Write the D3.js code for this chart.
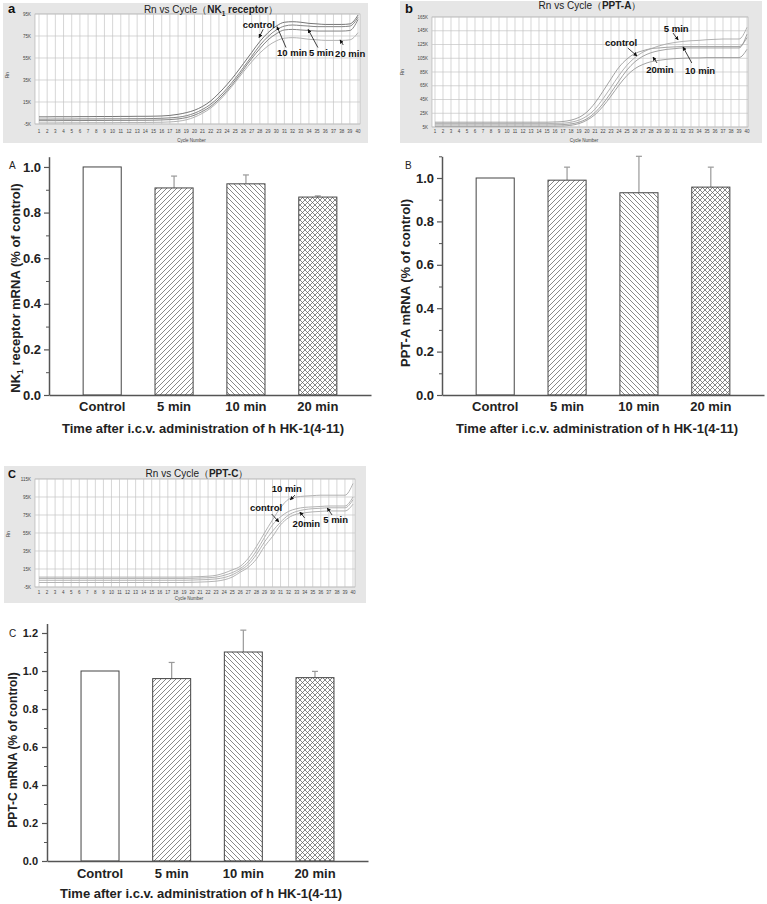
<!DOCTYPE html>
<html><head><meta charset="utf-8">
<script src="https://cdn.jsdelivr.net/npm/d3@7"></script>
<style>
body{margin:0;background:#fff}
svg{display:block}
text{font-family:Arial,"Liberation Sans",Helvetica,sans-serif}
</style>
</head><body>
<svg id="fig" width="767" height="904"></svg>
<script>
// ---------------- DATA ----------------
const cycles = d3.range(1, 41);

// Panel a: Rn vs Cycle (NK1 receptor), values in K
const ampA_control = [1.5,1.5,1.6,1.6,1.6,1.7,1.7,1.8,1.8,1.8, 1.9,1.9,2.0,2.0,2.1,2.3,2.8,3.8,5.3,7.5, 11,16,23,31,40,50,60,70,78,84, 87.5,88,87.5,86.5,86,85.5,85.5,85.5,86,94];
const ampA_10min  = [-0.6,-0.6,-0.5,-0.5,-0.5,-0.4,-0.4,-0.4,-0.3,-0.3, -0.3,-0.2,-0.2,-0.1,0,0.2,0.6,1.2,2.5,4.8, 8.3,13,19.5,27.5,36.5,46.5,56.5,66.5,74.5,80.5, 84,85,84.5,84,83.5,83.5,83.5,83.5,84,92];
const ampA_5min   = [-2,-2,-2,-1.9,-1.9,-1.9,-1.8,-1.8,-1.8,-1.7, -1.7,-1.7,-1.6,-1.6,-1.5,-1.3,-1,-0.4,0.8,3, 6.5,11,17.5,25.5,34.5,44.5,54.5,63.5,71.5,77, 80.5,81,80.5,80,79.5,79.5,79.5,79.5,80,90];
const ampA_20min  = [-4,-4,-4,-3.9,-3.9,-3.9,-3.8,-3.8,-3.8,-3.8, -3.7,-3.7,-3.7,-3.6,-3.5,-3.4,-3.1,-2.5,-1.2,1.2, 4.8,9.5,16,24,33,42.5,51.5,59.5,66,70.5, 73,73.5,73,72,71.5,71,71,71,71.5,78];
const ampA_yTicks = [-5,15,35,55,75,95];

// Panel b: Rn vs Cycle (PPT-A)
const ampB_control = [12,12,12,12,12,12,12,12,12,12, 12,12,12,12,12,12.3,13,15,19,27, 40,57,75,92,104,112,116,119,120,121, 121.5,122,122,122,122,122,122,122,122,135];
const ampB_5min    = [10,10,10,10,10,10,10,10,10,10, 10,10,10,10,10,10.2,10.5,12,15,21, 31,46,63,80,95,106,114,119,123,126, 128,129.5,130.5,131,132,132.5,133,133,133,150];
const ampB_10min   = [8,8,8,8,8,8,8,8,8,8, 8,8,8,8,8,8.2,8.5,9.5,12,17, 26,39,55,72,88,100,108,113,116,118, 119,120,120,120,120,120,120,120,120,140];
const ampB_20min   = [6,6,6,6,6,6,6,6,6,6, 6,6,6,6,6,6.2,6.5,7.5,10,15, 23,35,50,66,80,90,96,100,102,103.5, 104.5,105,105.5,105.5,106,106,106,106,106,118];
const ampB_yTicks = [5,25,45,65,85,105,125,145,165];

// Panel c: Rn vs Cycle (PPT-C)
const ampC_10min   = [6,6,6,6,6,6,6,6,6,6, 6,6,6,6,6,6,6,6,6,6.2, 6.5,7,8,10.5,14,18,27,40,55,69.5, 83,92.5,95,96,96.5,97,97,97,97,110];
const ampC_control = [4.5,4.5,4.5,4.5,4.5,4.5,4.5,4.5,4.5,4.5, 4.5,4.5,4.5,4.5,4.5,4.5,4.5,4.5,4.5,4.7, 5,5.3,6,8,11,15.5,23,35,50,64, 73,79,82,83.5,84,84.5,85,85,85,95];
const ampC_5min    = [2.5,2.5,2.5,2.5,2.5,2.5,2.5,2.5,2.5,2.5, 2.5,2.5,2.5,2.5,2.5,2.5,2.5,2.5,2.5,2.7, 3,3.3,4,5.5,8.5,13.5,20,31,45,57, 67,75,79,81,82,82.5,83,83,83,92];
const ampC_20min   = [0,0,0,0,0,0,0,0,0,0, 0,0,0,0,0,0,0,0,0,0.2, 0.5,0.8,1.5,3,6,11.5,17,26,40,51, 64,72,76,77.5,78.5,79,79.5,79.5,79.5,87];
const ampC_yTicks = [-5,15,35,55,75,95,115];

// Bar charts
const barCats = ["Control","5 min","10 min","20 min"];
const nk1Mean  = [1.0,0.908,0.926,0.868];
const nk1Err   = [0,0.052,0.039,0.005];
const pptaMean = [1.0,0.990,0.932,0.958];
const pptaErr  = [0,0.060,0.168,0.092];
const pptcMean = [1.0,0.960,1.100,0.965];
const pptcErr  = [0,0.085,0.115,0.033];
const barTicks = [0,0.2,0.4,0.6,0.8,1.0,1.2];
const barMinorTicks = [0.1,0.3,0.5,0.7,0.9,1.1];

// ---------------- DRAW ----------------
const svg = d3.select('#fig');
svg.append('rect').attr('width',767).attr('height',904).attr('fill','#fff');
const defs = svg.append('defs');

function pattern(id, d){
  const p = defs.append('pattern').attr('id',id).attr('patternUnits','userSpaceOnUse')
    .attr('width',5).attr('height',5);
  p.append('rect').attr('width',5).attr('height',5).attr('fill','#fff');
  p.append('path').attr('d',d).attr('stroke','#555').attr('stroke-width',0.7).attr('fill','none');
}
pattern('fwd','M-1,1L1,-1M0,5L5,0M4,6L6,4');
pattern('bwd','M-1,4L1,6M0,0L5,5M4,-1L6,1');
pattern('cross','M-1,1L1,-1M0,5L5,0M4,6L6,4M-1,4L1,6M0,0L5,5M4,-1L6,1');
const fills = ['#fff','url(#fwd)','url(#bwd)','url(#cross)'];

defs.append('marker').attr('id','arr').attr('viewBox','0 0 10 10').attr('refX',9).attr('refY',5)
  .attr('markerWidth',5).attr('markerHeight',5).attr('orient','auto')
  .append('path').attr('d','M0,0L10,5L0,10z').attr('fill','#111');

function ampPanel(cfg){
  const g = svg.append('g');
  g.append('rect').attr('x',cfg.box[0]).attr('y',cfg.box[1])
    .attr('width',cfg.box[2]-cfg.box[0]).attr('height',cfg.box[3]-cfg.box[1]).attr('fill','#e6e6e6');
  const [L,T,R,B] = cfg.plot;
  g.append('rect').attr('x',L).attr('y',T).attr('width',R-L).attr('height',B-T)
    .attr('fill','#fff').attr('stroke','#aaa').attr('stroke-width',0.6);
  const x = d3.scaleLinear().domain([1,40]).range(cfg.xr);
  const y = d3.scaleLinear().domain(cfg.yDomain).range([B,T]);
  g.selectAll('.vg').data(cycles).join('line')
    .attr('x1',d=>x(d)).attr('x2',d=>x(d)).attr('y1',T).attr('y2',B)
    .attr('stroke','#c4c4c4').attr('stroke-width',0.7);
  g.selectAll('.hg').data(cfg.yTicks).join('line')
    .attr('x1',L).attr('x2',R).attr('y1',d=>y(d)).attr('y2',d=>y(d))
    .attr('stroke','#c4c4c4').attr('stroke-width',0.7);
  g.selectAll('.yl').data(cfg.yTicks).join('text')
    .attr('x',L-4).attr('y',d=>y(d)).attr('dy','0.35em').attr('text-anchor','end')
    .attr('font-size',4.5).attr('fill','#444').text(d=>d+'K');
  g.selectAll('.xl').data(cycles).join('text')
    .attr('x',d=>x(d)).attr('y',cfg.xLabY).attr('dy','0.35em').attr('text-anchor','middle')
    .attr('font-size',4.5).attr('fill','#444').text(d=>d);
  g.append('text').attr('x',(L+R)/2-6).attr('y',cfg.cnY).attr('dy','0.35em').attr('text-anchor','middle')
    .attr('font-size',4.5).attr('fill','#444').text('Cycle Number');
  g.append('text').attr('transform',`translate(${cfg.rnPos[0]},${cfg.rnPos[1]}) rotate(-90)`)
    .attr('text-anchor','middle').attr('font-size',4.5).attr('fill','#444').text('Rn');
  const t = g.append('text').attr('x',cfg.titleX).attr('y',cfg.titleY).attr('text-anchor','middle')
    .attr('font-size',10).attr('fill','#222');
  t.append('tspan').text('Rn vs Cycle（');
  t.append('tspan').attr('font-weight','bold').text(cfg.gene);
  if(cfg.sub){
    t.append('tspan').attr('font-size',6.5).attr('dy',2.5).attr('font-weight','bold').text(cfg.sub);
    t.append('tspan').attr('dy',-2.5).attr('font-weight','bold').text(cfg.gene2);
  }
  t.append('tspan').text('）');
  g.append('text').attr('x',cfg.letterPos[0]).attr('y',cfg.letterPos[1])
    .attr('font-size',cfg.letterSize).attr('font-weight','bold').attr('fill','#111').text(cfg.letter);
  const line = d3.line().x((d,i)=>x(cycles[i])).y(d=>y(d)).curve(d3.curveMonotoneX);
  cfg.series.forEach((s,i)=>{
    g.append('path').attr('d',line(s)).attr('fill','none')
      .attr('stroke',cfg.colors[i]).attr('stroke-width',0.9);
  });
  cfg.notes.forEach(n=>{
    g.append('line').attr('x1',x(n.tail[0])).attr('y1',y(n.tail[1]))
      .attr('x2',x(n.tip[0])).attr('y2',y(n.tip[1]))
      .attr('stroke','#111').attr('stroke-width',0.8).attr('marker-end','url(#arr)');
    g.append('text').attr('x',x(n.at[0])).attr('y',y(n.at[1]))
      .attr('font-size',9.5).attr('font-weight','bold').attr('fill','#111').text(n.label);
  });
}

ampPanel({
  box:[3,3,368,143], plot:[35,14,360,124], xr:[39,358], yDomain:[-5,95], yTicks:ampA_yTicks,
  xLabY:131, cnY:140, rnPos:[9,75], titleX:211, titleY:13, gene:'NK', sub:'1', gene2:' receptor',
  letter:'a', letterPos:[8,13], letterSize:13,
  series:[ampA_control,ampA_10min,ampA_5min,ampA_20min], colors:['#666','#777','#777','#aaa'],
  notes:[
    {label:'control', at:[25.9,82.3], tail:[28.4,81], tip:[27.9,73.5]},
    {label:'10 min', at:[30.1,56.8], tail:[31.2,64.5], tip:[30.1,83.5]},
    {label:'5 min', at:[34.0,56.8], tail:[35.1,64.5], tip:[33.9,81]},
    {label:'20 min', at:[37.2,55.9], tail:[38.2,66.8], tip:[37.8,71.5]}
  ]
});

ampPanel({
  box:[400,1,762,143], plot:[432,17,748,127], xr:[435,747], yDomain:[5,165], yTicks:ampB_yTicks,
  xLabY:131, cnY:140, rnPos:[404,72], titleX:590, titleY:9, gene:'PPT-A',
  letter:'b', letterPos:[405,13], letterSize:13,
  series:[ampB_control,ampB_5min,ampB_10min,ampB_20min], colors:['#999','#aaa','#999','#999'],
  notes:[
    {label:'control', at:[22.25,122.8], tail:[25.1,119.9], tip:[26.25,108.3]},
    {label:'5 min', at:[29.6,143.2], tail:[30.75,141.7], tip:[31.4,131.5]},
    {label:'10 min', at:[32.25,82.1], tail:[33.1,98.1], tip:[32.0,121.4]},
    {label:'20min', at:[27.4,83.5], tail:[28.75,98.1], tip:[28.25,106.8]}
  ]
});

ampPanel({
  box:[4,466,366,603], plot:[35,479,355,587], xr:[39,353], yDomain:[-5,115], yTicks:ampC_yTicks,
  xLabY:592, cnY:598, rnPos:[10,534], titleX:197, titleY:477, gene:'PPT-C',
  letter:'C', letterPos:[8,478], letterSize:11,
  series:[ampC_10min,ampC_control,ampC_5min,ampC_20min], colors:['#aaa','#aaa','#aaa','#aaa'],
  notes:[
    {label:'10 min', at:[29.9,100.6], tail:[32.8,97.2], tip:[32.2,91.7]},
    {label:'control', at:[27.2,79.4], tail:[29.9,76.1], tip:[30.8,67.2]},
    {label:'20min', at:[32.5,61.7], tail:[34.0,71.7], tip:[33.4,78.3]},
    {label:'5 min', at:[36.3,66.1], tail:[37.4,75], tip:[36.8,82.8]}
  ]
});

function barPanel(cfg){
  const g = svg.append('g');
  const x = d3.scaleBand().domain(barCats).range(cfg.xr).paddingInner(0.47).paddingOuter(0.475);
  const y = d3.scaleLinear().domain(cfg.yDomain).range(cfg.yr);
  const data = barCats.map((c,i)=>({c, v:cfg.mean[i], e:cfg.err[i], i}));
  data.filter(d=>d.e>0).forEach(d=>{
    const cx = x(d.c)+x.bandwidth()/2;
    g.append('line').attr('x1',cx).attr('x2',cx).attr('y1',y(d.v)).attr('y2',y(d.v+d.e))
      .attr('stroke','#999').attr('stroke-width',1.2);
    g.append('line').attr('x1',cx-3).attr('x2',cx+3).attr('y1',y(d.v+d.e)).attr('y2',y(d.v+d.e))
      .attr('stroke','#999').attr('stroke-width',1.2);
  });
  g.selectAll('.bar').data(data).join('rect')
    .attr('x',d=>x(d.c)).attr('width',x.bandwidth())
    .attr('y',d=>y(d.v)).attr('height',d=>y(0)-y(d.v))
    .attr('fill',d=>fills[d.i]).attr('stroke','#444').attr('stroke-width',1);
  const ticks = barTicks.filter(t=>t<=cfg.yDomain[1]+1e-9);
  const minor = barMinorTicks.filter(t=>t<=cfg.yDomain[1]);
  const ya = g.append('g').attr('transform',`translate(${cfg.xr[0]},0)`)
    .call(d3.axisLeft(y).tickValues(ticks).tickFormat(d3.format('.1f')).tickSize(5).tickPadding(cfg.tickPad).tickSizeOuter(0));
  ya.selectAll('text').attr('font-size',cfg.tickFont).attr('font-weight','bold').attr('fill','#222')
    .attr('font-family','Arial,"Liberation Sans",sans-serif');
  ya.selectAll('line').attr('stroke','#555').attr('stroke-width',1.2);
  ya.select('.domain').attr('stroke','#555').attr('stroke-width',1.5);
  const ym = g.append('g').attr('transform',`translate(${cfg.xr[0]},0)`)
    .call(d3.axisLeft(y).tickValues(minor).tickFormat('').tickSize(3).tickSizeOuter(0));
  ym.select('.domain').remove();
  ym.selectAll('line').attr('stroke','#555').attr('stroke-width',1);
  const xa = g.append('g').attr('transform',`translate(0,${cfg.yr[0]})`)
    .call(d3.axisBottom(x).tickSize(0).tickPadding(cfg.xPad).tickSizeOuter(0));
  xa.selectAll('text').attr('font-size',13).attr('font-weight','bold').attr('fill','#222')
    .attr('font-family','Arial,"Liberation Sans",sans-serif');
  xa.select('.domain').attr('stroke','#555').attr('stroke-width',1.5);
  g.append('text').attr('x',cfg.titleX).attr('y',cfg.titleY).attr('text-anchor','middle')
    .attr('font-size',13).attr('font-weight','bold').attr('fill','#222')
    .text('Time after i.c.v. administration of h HK-1(4-11)');
  const yl = g.append('text').attr('transform',`translate(${cfg.ylab[0]},${cfg.ylab[1]}) rotate(-90)`)
    .attr('text-anchor','middle').attr('font-size',cfg.ylabFont).attr('font-weight','bold').attr('fill','#222');
  cfg.ylabParts.forEach(p=>{
    const ts = yl.append('tspan').text(p.t);
    if(p.sub){ ts.attr('font-size',cfg.ylabFont*0.65).attr('dy',3); }
    if(p.after){ ts.attr('dy',-3); }
  });
  g.append('text').attr('x',cfg.letterPos[0]).attr('y',cfg.letterPos[1])
    .attr('font-size',10).attr('fill','#222').text(cfg.letter);
}

barPanel({
  xr:[49,371], yDomain:[0,1.045], yr:[395,156.7], mean:nk1Mean, err:nk1Err,
  tickPad:3, tickFont:13, xPad:7, titleX:203, titleY:433, ylab:[20,288], ylabFont:13,
  ylabParts:[{t:'NK'},{t:'1',sub:true},{t:' receptor mRNA (% of control)',after:true}],
  letter:'A', letterPos:[9,169]
});
barPanel({
  xr:[442,764], yDomain:[0,1.1], yr:[395,156.3], mean:pptaMean, err:pptaErr,
  tickPad:3, tickFont:13, xPad:7, titleX:597, titleY:433, ylab:[410,283], ylabFont:13,
  ylabParts:[{t:'PPT-A mRNA (% of control)'}],
  letter:'B', letterPos:[405,169]
});
barPanel({
  xr:[47,368], yDomain:[0,1.25], yr:[861,623.5], mean:pptcMean, err:pptcErr,
  tickPad:4, tickFont:11, xPad:8, titleX:201, titleY:898, ylab:[17,750], ylabFont:12,
  ylabParts:[{t:'PPT-C mRNA (% of control)'}],
  letter:'C', letterPos:[9,637]
});
</script>
</body></html>
